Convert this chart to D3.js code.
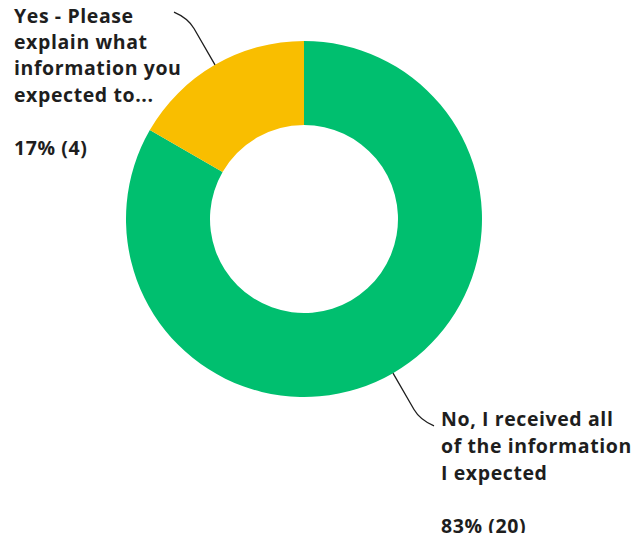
<!DOCTYPE html>
<html>
<head>
<meta charset="utf-8">
<script src="https://cdn.jsdelivr.net/npm/d3@7"></script>
<style>
  body { margin: 0; background: #fff; }
  svg { display: block; }
  .lbl { font-family: "Open Sans", Roboto, sans-serif; font-weight: 700; font-size: 19.5px; fill: #1e1e1e; letter-spacing: 0.6px; }
</style>
</head>
<body>
<div id="chart"></div>
<script>
// Donut chart - answers to "did you get the information you expected"
const categories = ["No, I received all of the information I expected", "Yes - Please explain what information you expected to..."];
const counts = [20, 4];
const percents = ["83%", "17%"];
const colors = ["#00bf6f", "#f9be00"];
const labelLines = [
  ["No, I received all", "of the information", "I expected"],
  ["Yes - Please", "explain what", "information you", "expected to..."]
];

const width = 631, height = 533;
const cx = 304, cy = 219, outerR = 178, innerR = 94;
const lineH = [27, 26.3];

const svg = d3.select("#chart").append("svg").attr("width", width).attr("height", height);
const g = svg.append("g").attr("transform", `translate(${cx},${cy})`);

const pie = d3.pie().sort(null).value(d => d);
const arcs = pie(counts);
const arc = d3.arc().innerRadius(innerR).outerRadius(outerR);

g.selectAll(".slice").data(arcs).join("path").attr("class", "slice")
  .attr("d", arc).attr("fill", (d, i) => colors[i]);

// leader lines: radial from slice middle, bending into a horizontal hook
const lineLen = 42;      // radial part
const hook = [{ dx: 14, dy: 6 }, { dx: -14, dy: -6 }];   // curve end offset from bend point
const labelPos = [{ x: 441, y: 426 }, { x: 14, y: 22.7 }];

arcs.forEach((d, i) => {
  const a = (d.startAngle + d.endAngle) / 2;
  const sx = Math.sin(a), sy = -Math.cos(a);
  const p0 = [sx * outerR, sy * outerR];
  const p1 = [sx * (outerR + lineLen), sy * (outerR + lineLen)];
  const ctrl = [sx * (outerR + lineLen + 12), sy * (outerR + lineLen + 12)];
  const end = [ctrl[0] + hook[i].dx, ctrl[1] + hook[i].dy];
  const p = d3.path();
  p.moveTo(p0[0], p0[1]);
  p.lineTo(p1[0], p1[1]);
  p.quadraticCurveTo(ctrl[0], ctrl[1], end[0], end[1]);
  g.append("path").attr("d", p.toString()).attr("fill", "none")
    .attr("stroke", "#1e1e1e").attr("stroke-width", 1.3);
});

// labels
labelLines.forEach((lines, i) => {
  const t = svg.append("text").attr("class", "lbl")
    .attr("x", labelPos[i].x).attr("y", labelPos[i].y);
  lines.forEach((s, k) => {
    t.append("tspan").attr("x", labelPos[i].x).attr("dy", k === 0 ? 0 : lineH[i]).text(s);
  });
  svg.append("text").attr("class", "lbl")
    .attr("x", labelPos[i].x)
    .attr("y", labelPos[i].y + lineH[i] * (lines.length - 1) + 53)
    .text(`${percents[i]} (${counts[i]})`);
});
</script>
</body>
</html>
